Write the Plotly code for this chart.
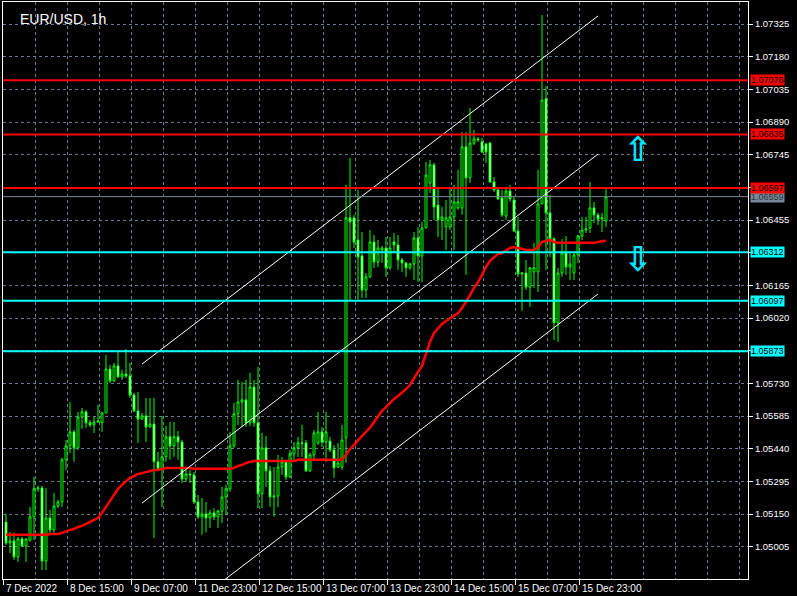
import plotly.graph_objects as go

# ---------------- data ----------------
bar_index = list(range(151))

open_ = [
    1.05115, 1.05022, 1.05031, 1.04960, 1.05040, 1.05009, 1.05035, 1.05138, 1.05262, 1.05266,
    1.04942, 1.05133, 1.05080, 1.05186, 1.05204, 1.05391, 1.05453, 1.05515, 1.05444, 1.05581,
    1.05604, 1.05555, 1.05546, 1.05559, 1.05555, 1.05599, 1.05794, 1.05741, 1.05808, 1.05759,
    1.05772, 1.05763, 1.05679, 1.05608, 1.05572, 1.05586, 1.05537, 1.05550, 1.05382, 1.05351,
    1.05404, 1.05493, 1.05453, 1.05493, 1.05470, 1.05306, 1.05328, 1.05324, 1.05204, 1.05138,
    1.05151, 1.05133, 1.05155, 1.05138, 1.05164, 1.05226, 1.05262, 1.05453, 1.05595, 1.05648,
    1.05657, 1.05555, 1.05714, 1.05555, 1.05240, 1.05444, 1.05342, 1.05226, 1.05230, 1.05359,
    1.05382, 1.05315, 1.05417, 1.05444, 1.05466, 1.05466, 1.05342, 1.05413, 1.05466, 1.05515,
    1.05470, 1.05474, 1.05435, 1.05359, 1.05359, 1.05488, 1.06465, 1.06465, 1.06367, 1.06296,
    1.06145, 1.06203, 1.06358, 1.06269, 1.06322, 1.06331, 1.06243, 1.06358, 1.06345, 1.06278,
    1.06265, 1.06243, 1.06260, 1.06376, 1.06296, 1.06420, 1.06620, 1.06700, 1.06522, 1.06456,
    1.06425, 1.06425, 1.06469, 1.06509, 1.06509, 1.06780, 1.06642, 1.06797, 1.06815, 1.06802,
    1.06793, 1.06797, 1.06624, 1.06589, 1.06553, 1.06473, 1.06584, 1.06544, 1.06407, 1.06216,
    1.06220, 1.06158, 1.06225, 1.06225, 1.06527, 1.06993, 1.06487, 1.06371, 1.05999, 1.06220,
    1.06309, 1.06247, 1.06220, 1.06300, 1.06385, 1.06411, 1.06420, 1.06509, 1.06478, 1.06460,
    1.06451,
]
high = [
    1.05151, 1.05071, 1.05067, 1.05049, 1.05049, 1.05044, 1.05182, 1.05315, 1.05275, 1.05275,
    1.05266, 1.05169, 1.05244, 1.05213, 1.05400, 1.05479, 1.05648, 1.05524, 1.05604, 1.05621,
    1.05612, 1.05568, 1.05581, 1.05635, 1.05604, 1.05857, 1.05812, 1.05821, 1.05870, 1.05790,
    1.05883, 1.05821, 1.05688, 1.05692, 1.05599, 1.05666, 1.05666, 1.05666, 1.05426, 1.05586,
    1.05541, 1.05559, 1.05559, 1.05519, 1.05479, 1.05346, 1.05346, 1.05337, 1.05235, 1.05222,
    1.05204, 1.05169, 1.05177, 1.05169, 1.05271, 1.05280, 1.05515, 1.05643, 1.05746, 1.05737,
    1.05746, 1.05777, 1.05746, 1.05803, 1.05510, 1.05497, 1.05364, 1.05359, 1.05413, 1.05404,
    1.05391, 1.05435, 1.05470, 1.05493, 1.05546, 1.05479, 1.05422, 1.05524, 1.05604, 1.05537,
    1.05604, 1.05493, 1.05457, 1.05466, 1.05546, 1.06611, 1.06731, 1.06478, 1.06589, 1.06402,
    1.06220, 1.06411, 1.06389, 1.06367, 1.06340, 1.06380, 1.06380, 1.06398, 1.06389, 1.06287,
    1.06269, 1.06265, 1.06402, 1.06425, 1.06447, 1.06713, 1.06722, 1.06709, 1.06602, 1.06513,
    1.06544, 1.06598, 1.06611, 1.06678, 1.06846, 1.06846, 1.06953, 1.06855, 1.06824, 1.06820,
    1.06797, 1.06802, 1.06646, 1.06598, 1.06589, 1.06598, 1.06611, 1.06558, 1.06469, 1.06225,
    1.06278, 1.06247, 1.06354, 1.06678, 1.07365, 1.07050, 1.06567, 1.06380, 1.06243, 1.06371,
    1.06385, 1.06314, 1.06309, 1.06389, 1.06469, 1.06469, 1.06624, 1.06536, 1.06487, 1.06487,
    1.06598,
]
low = [
    1.05013, 1.04978, 1.04947, 1.04938, 1.05004, 1.04938, 1.05027, 1.05035, 1.05249, 1.04902,
    1.04902, 1.05067, 1.05067, 1.05177, 1.05182, 1.05346, 1.05422, 1.05382, 1.05435, 1.05528,
    1.05533, 1.05537, 1.05510, 1.05555, 1.05515, 1.05599, 1.05732, 1.05737, 1.05754, 1.05746,
    1.05754, 1.05666, 1.05604, 1.05466, 1.05568, 1.05470, 1.05533, 1.05044, 1.05346, 1.05182,
    1.05382, 1.05391, 1.05404, 1.05391, 1.05288, 1.05293, 1.05288, 1.05195, 1.05129, 1.05058,
    1.05071, 1.05089, 1.05124, 1.05089, 1.05111, 1.05146, 1.05249, 1.05444, 1.05546, 1.05537,
    1.05537, 1.05541, 1.05537, 1.05177, 1.05177, 1.05271, 1.05182, 1.05138, 1.05182, 1.05324,
    1.05302, 1.05311, 1.05391, 1.05404, 1.05404, 1.05337, 1.05337, 1.05391, 1.05457, 1.05448,
    1.05382, 1.05426, 1.05311, 1.05355, 1.05346, 1.05377, 1.06101, 1.06331, 1.06101, 1.06109,
    1.06109, 1.06198, 1.06243, 1.06247, 1.06265, 1.06203, 1.06234, 1.06309, 1.06234, 1.06225,
    1.06203, 1.06234, 1.06189, 1.06180, 1.06180, 1.06420, 1.06575, 1.06456, 1.06380, 1.06367,
    1.06322, 1.06411, 1.06322, 1.06500, 1.06478, 1.06212, 1.06620, 1.06788, 1.06802, 1.06753,
    1.06709, 1.06620, 1.06580, 1.06544, 1.06469, 1.06456, 1.06536, 1.06402, 1.06203, 1.06052,
    1.06145, 1.06070, 1.06154, 1.06136, 1.06527, 1.06234, 1.06291, 1.05923, 1.05914, 1.06203,
    1.06212, 1.06189, 1.06189, 1.06265, 1.06367, 1.06398, 1.06398, 1.06442, 1.06433, 1.06402,
    1.06425,
]
close = [
    1.05022, 1.05031, 1.04960, 1.05040, 1.05009, 1.05040, 1.05138, 1.05262, 1.05266, 1.04942,
    1.05133, 1.05080, 1.05186, 1.05204, 1.05391, 1.05453, 1.05515, 1.05444, 1.05581, 1.05604,
    1.05555, 1.05546, 1.05559, 1.05564, 1.05599, 1.05794, 1.05741, 1.05808, 1.05759, 1.05772,
    1.05763, 1.05679, 1.05608, 1.05572, 1.05586, 1.05537, 1.05550, 1.05382, 1.05351, 1.05404,
    1.05493, 1.05453, 1.05493, 1.05470, 1.05306, 1.05328, 1.05324, 1.05204, 1.05138, 1.05151,
    1.05133, 1.05155, 1.05138, 1.05164, 1.05226, 1.05262, 1.05453, 1.05595, 1.05648, 1.05657,
    1.05555, 1.05714, 1.05555, 1.05240, 1.05444, 1.05342, 1.05226, 1.05230, 1.05359, 1.05382,
    1.05315, 1.05417, 1.05444, 1.05466, 1.05464, 1.05342, 1.05413, 1.05510, 1.05515, 1.05470,
    1.05515, 1.05435, 1.05355, 1.05377, 1.05479, 1.06465, 1.06447, 1.06358, 1.06291, 1.06145,
    1.06203, 1.06358, 1.06269, 1.06331, 1.06331, 1.06243, 1.06331, 1.06345, 1.06278, 1.06265,
    1.06243, 1.06260, 1.06376, 1.06296, 1.06420, 1.06655, 1.06700, 1.06513, 1.06456, 1.06469,
    1.06465, 1.06469, 1.06536, 1.06536, 1.06780, 1.06642, 1.06797, 1.06815, 1.06811, 1.06757,
    1.06757, 1.06624, 1.06589, 1.06549, 1.06478, 1.06584, 1.06549, 1.06407, 1.06216, 1.06220,
    1.06158, 1.06243, 1.06243, 1.06527, 1.06988, 1.06487, 1.06371, 1.05999, 1.06220, 1.06309,
    1.06247, 1.06260, 1.06300, 1.06385, 1.06411, 1.06416, 1.06509, 1.06478, 1.06460, 1.06465,
    1.06559,
]
moving_average = [
    1.05058, 1.05058, 1.05058, 1.05058, 1.05058, 1.05058, 1.05058, 1.05058, 1.05058, 1.05058,
    1.05058, 1.05062, 1.05062, 1.05062, 1.05067, 1.05075, 1.05080, 1.05084, 1.05093, 1.05098,
    1.05106, 1.05115, 1.05124, 1.05133, 1.05155, 1.05182, 1.05213, 1.05240, 1.05262, 1.05280,
    1.05297, 1.05311, 1.05319, 1.05328, 1.05332, 1.05337, 1.05342, 1.05346, 1.05346, 1.05351,
    1.05355, 1.05355, 1.05355, 1.05355, 1.05355, 1.05355, 1.05355, 1.05351, 1.05351, 1.05351,
    1.05351, 1.05351, 1.05351, 1.05351, 1.05351, 1.05351, 1.05351, 1.05355, 1.05364, 1.05368,
    1.05377, 1.05382, 1.05386, 1.05386, 1.05386, 1.05386, 1.05386, 1.05386, 1.05386, 1.05386,
    1.05386, 1.05386, 1.05386, 1.05391, 1.05391, 1.05391, 1.05391, 1.05391, 1.05391, 1.05391,
    1.05391, 1.05391, 1.05391, 1.05391, 1.05391, 1.05413, 1.05439, 1.05457, 1.05479, 1.05497,
    1.05515, 1.05533, 1.05559, 1.05586, 1.05608, 1.05625, 1.05643, 1.05661, 1.05674, 1.05688,
    1.05705, 1.05723, 1.05754, 1.05781, 1.05808, 1.05861, 1.05914, 1.05954, 1.05976, 1.05994,
    1.06007, 1.06020, 1.06033, 1.06042, 1.06065, 1.06091, 1.06122, 1.06154, 1.06180, 1.06212,
    1.06247, 1.06274, 1.06291, 1.06304, 1.06309, 1.06322, 1.06331, 1.06335, 1.06331, 1.06327,
    1.06322, 1.06322, 1.06322, 1.06335, 1.06358, 1.06362, 1.06367, 1.06358, 1.06354, 1.06354,
    1.06354, 1.06354, 1.06354, 1.06354, 1.06354, 1.06354, 1.06354, 1.06354, 1.06358, 1.06362,
    1.06362,
]

resistance_levels = [1.07076, 1.06835, 1.06597]
support_levels = [1.06312, 1.06097, 1.05873]
bid_price = 1.06559

channel_x = [34, 148]
channel_upper = [1.05816, 1.07361]
channel_middle = [1.05199, 1.06748]
channel_lower = [1.04578, 1.06127]

arrow_x = [158, 158]
arrow_y = [1.06753, 1.06269]
arrow_glyphs = ["\u21e7", "\u21e9"]

price_ticks = ["1.05005", "1.05150", "1.05295", "1.05440", "1.05585", "1.05730",
               "1.05875", "1.06020", "1.06165", "1.06310", "1.06455", "1.06600",
               "1.06745", "1.06890", "1.07035", "1.07180", "1.07325"]
covered_price_ticks = ["1.05875", "1.06310", "1.06600"]

time_tick_pos = [-0.75, 15.25, 31.25, 47.25, 63.25, 79.25, 95.25, 111.25, 127.25, 143.25]
time_tick_labels = ["7 Dec 2022", "8 Dec 15:00", "9 Dec 07:00", "11 Dec 23:00",
                    "12 Dec 15:00", "13 Dec 07:00", "13 Dec 23:00", "14 Dec 15:00",
                    "15 Dec 07:00", "15 Dec 23:00"]

x_range = [-0.75, 185.5]
y_range = [1.04862, 1.07423]

# ---------------- figure ----------------
GRID = "#6b7a8f"
FONT = "Liberation Sans"

fig = go.Figure()

fig.add_trace(go.Candlestick(
    x=bar_index, open=open_, high=high, low=low, close=close,
    increasing=dict(line=dict(color="#00ff00", width=1), fillcolor="#000000"),
    decreasing=dict(line=dict(color="#00ff00", width=1), fillcolor="#ffffff"),
    whiskerwidth=0, showlegend=False, hoverinfo="skip",
))

fig.add_trace(go.Scatter(
    x=bar_index, y=moving_average, mode="lines",
    line=dict(color="#ff0000", width=2.5), showlegend=False, hoverinfo="skip",
))

for ch in (channel_upper, channel_middle, channel_lower):
    fig.add_trace(go.Scatter(
        x=channel_x, y=ch, mode="lines",
        line=dict(color="#ffffff", width=1), showlegend=False, hoverinfo="skip",
    ))

fig.add_trace(go.Scatter(
    x=arrow_x, y=arrow_y, mode="text", text=arrow_glyphs,
    textfont=dict(color="#00e5ff", size=34, family="DejaVu Sans", weight="bold"),
    showlegend=False, hoverinfo="skip",
))

shapes = []
shapes.append(dict(type="line", xref="paper", x0=0, x1=1, yref="y",
                   y0=bid_price, y1=bid_price, line=dict(color="#778899", width=1)))
for lv in resistance_levels:
    shapes.append(dict(type="line", xref="paper", x0=0, x1=1, yref="y",
                       y0=lv, y1=lv, line=dict(color="#ff0000", width=2)))
for lv in support_levels:
    shapes.append(dict(type="line", xref="paper", x0=0, x1=1, yref="y",
                       y0=lv, y1=lv, line=dict(color="#00ffff", width=2)))

annotations = []
annotations.append(dict(xref="paper", yref="paper", x=15 / 745, y=0.9714,
                        xanchor="left", yanchor="middle", text="EUR/USD, 1h",
                        showarrow=False, font=dict(color="#ffffff", size=14, family=FONT)))
for pos, lab in zip(time_tick_pos, time_tick_labels):
    annotations.append(dict(xref="x", yref="paper", x=pos, y=0, xanchor="left",
                            yanchor="top", xshift=1, yshift=-2, text=lab, showarrow=False,
                            font=dict(color="#ffffff", size=10, family=FONT)))

def price_label(value, bg, fg):
    return dict(xref="paper", yref="y", x=1, y=value, xanchor="left", yanchor="middle",
                xshift=2, text=f"{value:.5f}", showarrow=False, bgcolor=bg,
                borderpad=0, font=dict(color=fg, size=9, family=FONT))

annotations.append(price_label(bid_price, "#778899", "#2b333b"))
for lv in resistance_levels:
    annotations.append(price_label(lv, "#ff0000", "#000000"))
for lv in support_levels:
    annotations.append(price_label(lv, "#00ffff", "#000000"))

fig.update_layout(
    width=797, height=596, autosize=False,
    margin=dict(l=3, r=49, t=2, b=17, pad=0),
    paper_bgcolor="#000000", plot_bgcolor="#000000",
    shapes=shapes, annotations=annotations,
    showlegend=False,
    xaxis=dict(
        range=x_range, rangeslider=dict(visible=False), fixedrange=True,
        tickmode="array", tickvals=time_tick_pos, ticktext=[""] * len(time_tick_pos),
        ticks="outside", ticklen=5, tickcolor="#ffffff", tickwidth=1,
        showgrid=True, gridcolor=GRID, griddash="3px,3px", gridwidth=1,
        minor=dict(tickmode="linear", tick0=-0.75, dtick=8, showgrid=True,
                   gridcolor=GRID, griddash="3px,3px", gridwidth=1, ticks=""),
        showline=True, linecolor="#ffffff", linewidth=1, mirror=True,
        zeroline=False,
    ),
    yaxis=dict(
        range=y_range, side="right", fixedrange=True,
        tickmode="array", tickvals=[float(t) for t in price_ticks],
        ticktext=["" if t in covered_price_ticks else t for t in price_ticks],
        ticks="outside", ticklen=4, tickcolor="#ffffff", tickwidth=1,
        tickfont=dict(color="#ffffff", size=9.5, family=FONT),
        showgrid=True, gridcolor=GRID, griddash="3px,3px", gridwidth=1,
        showline=True, linecolor="#ffffff", linewidth=1, mirror=True,
        zeroline=False,
    ),
)

fig.write_html(
    "out.html",
    config={"displayModeBar": False},
    post_script="document.body.style.margin='0';document.body.style.overflow='hidden';",
)
